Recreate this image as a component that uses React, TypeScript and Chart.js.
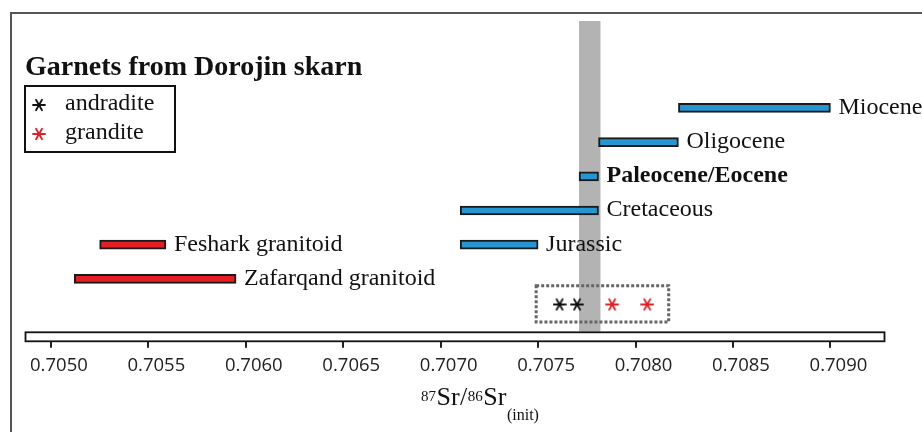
import React, { useEffect, useRef } from "react";
import { Chart, registerables } from "chart.js";

Chart.register(...registerables);

// ---- data ----
const MARINE_LABELS = ["Miocene", "Oligocene", "Paleocene/Eocene", "Cretaceous", "Jurassic"];
const MARINE_START = [0.70822, 0.70781, 0.70771, 0.7071, 0.7071];
const MARINE_END = [0.709, 0.70822, 0.70781, 0.70781, 0.7075];
const MARINE_ROW = [6, 5, 4, 3, 2];
const MARINE_BOLD = [false, false, true, false, false];

const GRANITOID_LABELS = ["Feshark granitoid", "Zafarqand granitoid"];
const GRANITOID_START = [0.70525, 0.70512];
const GRANITOID_END = [0.70559, 0.70595];
const GRANITOID_ROW = [2, 1];

const ANDRADITE_X = [0.70761, 0.7077];
const GRANDITE_X = [0.70788, 0.70806];
const GARNET_ROW = 0.25;

const SEAWATER_BAND = [0.70771, 0.70782];
const GARNET_BOX_X = [0.70749, 0.70817];
const GARNET_BOX_Y = [-0.26, 0.8];

const TICK_VALUES = [0.705, 0.7055, 0.706, 0.7065, 0.707, 0.7075, 0.708, 0.7085, 0.709];
const X_MIN = 0.704867;
const X_MAX = 0.70928;
const Y_MIN = -0.842;
const Y_MAX = 8.544;

const TITLE = "Garnets from Dorojin skarn";
const LEGEND_LABELS = ["andradite", "grandite"];

const BLUE = "#2596d2";
const RED = "#e31e24";
const SERIF = "'Liberation Serif', 'Times New Roman', serif";

function makeStar(color: string): HTMLCanvasElement {
  const c = document.createElement("canvas");
  c.width = 14;
  c.height = 14;
  const g = c.getContext("2d")!;
  g.strokeStyle = color;
  g.lineWidth = 1.8;
  g.lineCap = "round";
  const r = 6;
  for (const a of [0, 60, 120]) {
    const rad = (a * Math.PI) / 180;
    g.beginPath();
    g.moveTo(7 - r * Math.cos(rad), 7 - r * Math.sin(rad));
    g.lineTo(7 + r * Math.cos(rad), 7 + r * Math.sin(rad));
    g.stroke();
  }
  return c;
}

export default function App() {
  const ref = useRef<HTMLCanvasElement>(null);

  useEffect(() => {
    if (!ref.current) return;
    const blackStar = makeStar("#111");
    const redStar = makeStar(RED);

    const decor = {
      id: "decor",
      beforeDatasetsDraw(chart: any) {
        const { ctx, chartArea } = chart;
        const xs = chart.scales.x;
        const ys = chart.scales.y;
        const bx0 = xs.getPixelForValue(SEAWATER_BAND[0]);
        const bx1 = xs.getPixelForValue(SEAWATER_BAND[1]);
        ctx.save();
        ctx.fillStyle = "#b3b3b3";
        ctx.fillRect(bx0, chartArea.top, bx1 - bx0, chartArea.bottom - 10 - chartArea.top);
        const x0 = xs.getPixelForValue(GARNET_BOX_X[0]);
        const x1 = xs.getPixelForValue(GARNET_BOX_X[1]);
        const y0 = ys.getPixelForValue(GARNET_BOX_Y[1]);
        const y1 = ys.getPixelForValue(GARNET_BOX_Y[0]);
        ctx.strokeStyle = "#666";
        ctx.lineWidth = 3;
        ctx.setLineDash([3, 2]);
        ctx.strokeRect(x0, y0, x1 - x0, y1 - y0);
        ctx.restore();
      },
      afterDatasetsDraw(chart: any) {
        const { ctx } = chart;
        ctx.save();
        ctx.fillStyle = "#111";
        ctx.textBaseline = "alphabetic";
        ctx.textAlign = "left";
        const sets = [
          { idx: 0, labels: MARINE_LABELS, bold: MARINE_BOLD },
          { idx: 1, labels: GRANITOID_LABELS, bold: GRANITOID_LABELS.map(() => false) },
        ];
        for (const s of sets) {
          const meta = chart.getDatasetMeta(s.idx);
          meta.data.forEach((el: any, i: number) => {
            const end = Math.max(el.x, el.base);
            ctx.font = `${s.bold[i] ? "bold " : ""}24px ${SERIF}`;
            ctx.fillText(s.labels[i], end + 8, el.y + 6);
          });
        }
        ctx.restore();
      },
      afterDraw(chart: any) {
        const { ctx, chartArea } = chart;
        ctx.save();
        // frame
        ctx.strokeStyle = "#555";
        ctx.lineWidth = 2;
        ctx.beginPath();
        ctx.moveTo(11, 432);
        ctx.lineTo(11, 13);
        ctx.lineTo(922, 13);
        ctx.stroke();
        // axis bar
        ctx.fillStyle = "#fff";
        ctx.fillRect(chartArea.left, chartArea.bottom - 10, chartArea.right - chartArea.left, 10);
        ctx.strokeStyle = "#111";
        ctx.lineWidth = 1.8;
        ctx.strokeRect(chartArea.left + 0.5, chartArea.bottom - 9.5, chartArea.right - chartArea.left - 1, 9);
        // title
        ctx.fillStyle = "#111";
        ctx.font = `bold 28px ${SERIF}`;
        ctx.textAlign = "left";
        ctx.textBaseline = "alphabetic";
        ctx.fillText(TITLE, 25, 75);
        // legend
        ctx.lineWidth = 2;
        ctx.strokeStyle = "#111";
        ctx.strokeRect(25, 86, 150, 66);
        ctx.drawImage(blackStar, 39 - 7, 105 - 7);
        ctx.drawImage(redStar, 39 - 7, 134 - 7);
        ctx.font = `24px ${SERIF}`;
        ctx.fillText(LEGEND_LABELS[0], 65, 110);
        ctx.fillText(LEGEND_LABELS[1], 65, 139);
        // axis title 87Sr/86Sr(init)
        const parts: [string, number, number][] = [
          ["87", 15, 401],
          ["Sr", 26, 405],
          ["/", 26, 405],
          ["86", 15, 401],
          ["Sr", 26, 405],
          ["(init)", 16, 420],
        ];
        let x = 421;
        for (const [t, size, base] of parts) {
          ctx.font = `${size}px ${SERIF}`;
          ctx.fillText(t, x, base);
          x += ctx.measureText(t).width + 0.5;
        }
        ctx.restore();
      },
    };

    const chart = new Chart(ref.current, {
      type: "bar",
      data: {
        datasets: [
          {
            type: "bar",
            indexAxis: "y",
            data: MARINE_ROW.map((r, i) => ({ x: [MARINE_START[i], MARINE_END[i]], y: r })),
            backgroundColor: BLUE,
            borderColor: "#1a1a1a",
            borderWidth: 2,
            borderSkipped: false,
            barThickness: 9,
            grouped: false,
          } as any,
          {
            type: "bar",
            indexAxis: "y",
            data: GRANITOID_ROW.map((r, i) => ({ x: [GRANITOID_START[i], GRANITOID_END[i]], y: r })),
            backgroundColor: RED,
            borderColor: "#1a1a1a",
            borderWidth: 2,
            borderSkipped: false,
            barThickness: 9,
            grouped: false,
          } as any,
          {
            type: "scatter",
            indexAxis: "x",
            data: ANDRADITE_X.map((v) => ({ x: v, y: GARNET_ROW })),
            pointStyle: blackStar,
            showLine: false,
          } as any,
          {
            type: "scatter",
            indexAxis: "x",
            data: GRANDITE_X.map((v) => ({ x: v, y: GARNET_ROW })),
            pointStyle: redStar,
            showLine: false,
          } as any,
        ],
      },
      options: {
        animation: false,
        responsive: false,
        indexAxis: "y",
        layout: { padding: { left: 25, right: 37, top: 21, bottom: 48 } },
        plugins: { legend: { display: false }, tooltip: { enabled: false } },
        scales: {
          x: {
            type: "linear",
            position: "bottom",
            min: X_MIN,
            max: X_MAX,
            offset: false,
            beginAtZero: false,
            afterBuildTicks: (axis: any) => {
              axis.ticks = TICK_VALUES.map((v) => ({ value: v }));
            },
            ticks: {
              callback: (v: any) => Number(v).toFixed(4),
              font: { family: "'Open Sans', sans-serif", size: 18.5 },
              color: "#222",
              padding: 7,
              labelOffset: 8,
              maxRotation: 0,
              autoSkip: false,
            },
            grid: {
              display: true,
              drawOnChartArea: false,
              drawTicks: true,
              tickLength: 6,
              offset: false,
              color: "#222",
              lineWidth: 2,
            },
            border: { display: false },
          },
          y: {
            type: "linear",
            display: false,
            min: Y_MIN,
            max: Y_MAX,
            offset: false,
            beginAtZero: false,
          },
        },
      } as any,
      plugins: [decor],
    });
    return () => chart.destroy();
  }, []);

  return (
    <div style={{ position: "absolute", left: 0, top: 0, width: 922, height: 432, background: "#fff" }}>
      <canvas ref={ref} width={922} height={432} style={{ display: "block" }} />
    </div>
  );
}
